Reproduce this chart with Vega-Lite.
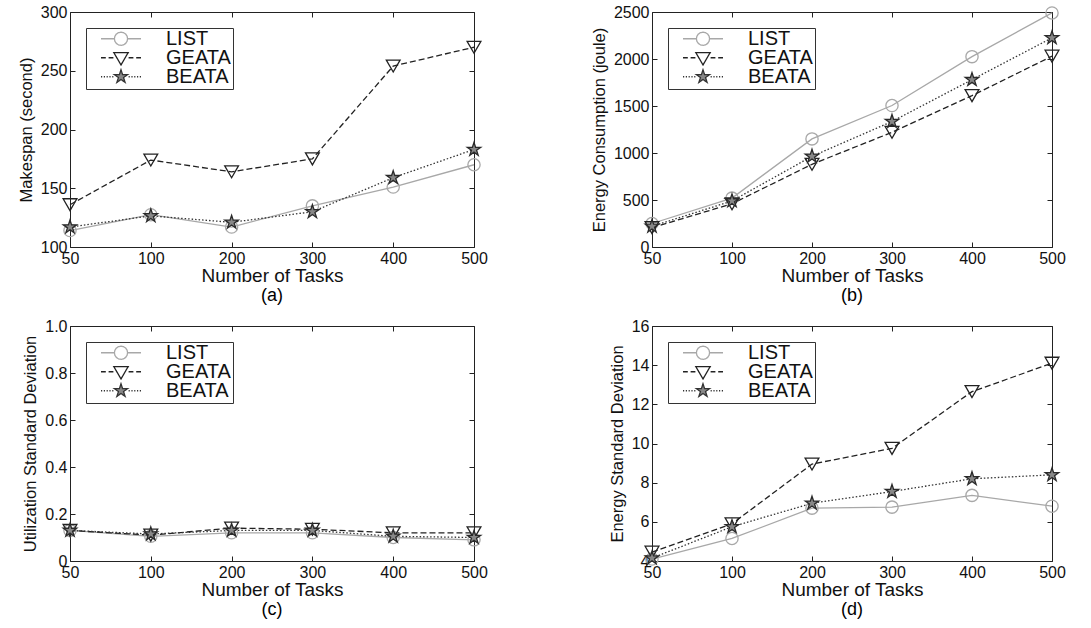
{
  "$schema": "https://vega.github.io/schema/vega-lite/v6.json",
  "background": "white",
  "padding": {"left": 17, "top": 3, "right": 5, "bottom": 5},
  "datasets": {
    "d": [
      {"p": "a", "tasks": 50, "series": "LIST", "v": 114},
      {"p": "a", "tasks": 100, "series": "LIST", "v": 127.5},
      {"p": "a", "tasks": 200, "series": "LIST", "v": 117},
      {"p": "a", "tasks": 300, "series": "LIST", "v": 135},
      {"p": "a", "tasks": 400, "series": "LIST", "v": 151},
      {"p": "a", "tasks": 500, "series": "LIST", "v": 170},
      {"p": "a", "tasks": 50, "series": "GEATA", "v": 136},
      {"p": "a", "tasks": 100, "series": "GEATA", "v": 174},
      {"p": "a", "tasks": 200, "series": "GEATA", "v": 164},
      {"p": "a", "tasks": 300, "series": "GEATA", "v": 175},
      {"p": "a", "tasks": 400, "series": "GEATA", "v": 254},
      {"p": "a", "tasks": 500, "series": "GEATA", "v": 270},
      {"p": "a", "tasks": 50, "series": "BEATA", "v": 117},
      {"p": "a", "tasks": 100, "series": "BEATA", "v": 126.5},
      {"p": "a", "tasks": 200, "series": "BEATA", "v": 121},
      {"p": "a", "tasks": 300, "series": "BEATA", "v": 130},
      {"p": "a", "tasks": 400, "series": "BEATA", "v": 159},
      {"p": "a", "tasks": 500, "series": "BEATA", "v": 183},
      {"p": "b", "tasks": 50, "series": "LIST", "v": 250},
      {"p": "b", "tasks": 100, "series": "LIST", "v": 520},
      {"p": "b", "tasks": 200, "series": "LIST", "v": 1150},
      {"p": "b", "tasks": 300, "series": "LIST", "v": 1505},
      {"p": "b", "tasks": 400, "series": "LIST", "v": 2025},
      {"p": "b", "tasks": 500, "series": "LIST", "v": 2490},
      {"p": "b", "tasks": 50, "series": "GEATA", "v": 205},
      {"p": "b", "tasks": 100, "series": "GEATA", "v": 460},
      {"p": "b", "tasks": 200, "series": "GEATA", "v": 880},
      {"p": "b", "tasks": 300, "series": "GEATA", "v": 1220},
      {"p": "b", "tasks": 400, "series": "GEATA", "v": 1610},
      {"p": "b", "tasks": 500, "series": "GEATA", "v": 2030},
      {"p": "b", "tasks": 50, "series": "BEATA", "v": 220},
      {"p": "b", "tasks": 100, "series": "BEATA", "v": 490},
      {"p": "b", "tasks": 200, "series": "BEATA", "v": 965},
      {"p": "b", "tasks": 300, "series": "BEATA", "v": 1335},
      {"p": "b", "tasks": 400, "series": "BEATA", "v": 1780},
      {"p": "b", "tasks": 500, "series": "BEATA", "v": 2225},
      {"p": "c", "tasks": 50, "series": "LIST", "v": 0.13},
      {"p": "c", "tasks": 100, "series": "LIST", "v": 0.105},
      {"p": "c", "tasks": 200, "series": "LIST", "v": 0.12},
      {"p": "c", "tasks": 300, "series": "LIST", "v": 0.12},
      {"p": "c", "tasks": 400, "series": "LIST", "v": 0.1},
      {"p": "c", "tasks": 500, "series": "LIST", "v": 0.09},
      {"p": "c", "tasks": 50, "series": "GEATA", "v": 0.13},
      {"p": "c", "tasks": 100, "series": "GEATA", "v": 0.11},
      {"p": "c", "tasks": 200, "series": "GEATA", "v": 0.14},
      {"p": "c", "tasks": 300, "series": "GEATA", "v": 0.135},
      {"p": "c", "tasks": 400, "series": "GEATA", "v": 0.12},
      {"p": "c", "tasks": 500, "series": "GEATA", "v": 0.12},
      {"p": "c", "tasks": 50, "series": "BEATA", "v": 0.13},
      {"p": "c", "tasks": 100, "series": "BEATA", "v": 0.115},
      {"p": "c", "tasks": 200, "series": "BEATA", "v": 0.13},
      {"p": "c", "tasks": 300, "series": "BEATA", "v": 0.13},
      {"p": "c", "tasks": 400, "series": "BEATA", "v": 0.105},
      {"p": "c", "tasks": 500, "series": "BEATA", "v": 0.1},
      {"p": "d", "tasks": 50, "series": "LIST", "v": 4.1},
      {"p": "d", "tasks": 100, "series": "LIST", "v": 5.15},
      {"p": "d", "tasks": 200, "series": "LIST", "v": 6.7},
      {"p": "d", "tasks": 300, "series": "LIST", "v": 6.75},
      {"p": "d", "tasks": 400, "series": "LIST", "v": 7.35},
      {"p": "d", "tasks": 500, "series": "LIST", "v": 6.8},
      {"p": "d", "tasks": 50, "series": "GEATA", "v": 4.45},
      {"p": "d", "tasks": 100, "series": "GEATA", "v": 5.9},
      {"p": "d", "tasks": 200, "series": "GEATA", "v": 8.95},
      {"p": "d", "tasks": 300, "series": "GEATA", "v": 9.75},
      {"p": "d", "tasks": 400, "series": "GEATA", "v": 12.65},
      {"p": "d", "tasks": 500, "series": "GEATA", "v": 14.1},
      {"p": "d", "tasks": 50, "series": "BEATA", "v": 4.15},
      {"p": "d", "tasks": 100, "series": "BEATA", "v": 5.75},
      {"p": "d", "tasks": 200, "series": "BEATA", "v": 6.95},
      {"p": "d", "tasks": 300, "series": "BEATA", "v": 7.55},
      {"p": "d", "tasks": 400, "series": "BEATA", "v": 8.2},
      {"p": "d", "tasks": 500, "series": "BEATA", "v": 8.4}
    ]
  },
  "columns": 2,
  "spacing": {"row": 11, "column": 102},
  "resolve": {"scale": {"color": "independent"}, "legend": {"color": "independent"}},
  "concat": [
    {
      "width": 404, "height": 235,
      "data": {"name": "d"},
      "transform": [{"filter": "datum.p === 'a'"}],
      "title": {"text": "(a)", "orient": "bottom", "frame": "group", "anchor": "middle", "fontSize": 18, "fontWeight": "normal", "font": "Liberation Sans", "offset": 2},
      "encoding": {
        "x": {"field": "tasks", "type": "ordinal", "scale": {"type": "point", "padding": 0}, "axis": null},
        "y": {"field": "v", "type": "quantitative", "scale": {"domain": [100, 300], "nice": false, "zero": false}, "axis": null}
      },
      "layer": [
        {
          "transform": [{"filter": "datum.series === 'LIST'"}],
          "mark": {"type": "line", "strokeWidth": 1.3},
          "encoding": {
            "x": {"field": "tasks", "type": "ordinal", "scale": {"type": "point", "padding": 0}, "axis": {"title": "Number of Tasks"}},
            "y": {"field": "v", "type": "quantitative", "scale": {"domain": [100, 300], "nice": false, "zero": false}, "axis": {"title": "Makespan (second)", "values": [100, 150, 200, 250, 300]}},
            "color": {"field": "series", "type": "nominal", "scale": {"domain": ["LIST", "GEATA", "BEATA"], "range": ["#a8a8a8", "#222222", "#333333"]},
              "legend": {"orient": "top-left", "offset": 16, "title": null, "strokeColor": "#333", "fillColor": "white", "padding": 2, "labelFontSize": 20, "labelFont": "Liberation Sans", "labelColor": "#111", "labelExpr": "datum.label + '\u00a0\u00a0'", "symbolSize": 1600, "symbolStrokeWidth": 1.3, "clipHeight": 17.5, "rowPadding": -4, "symbolOffset": 12, "labelOffset": 24,
                "encode": {"symbols": {"update": {
                  "shape": {"signal": "datum.value === 'LIST' ? 'M-1,0H-0.33M0.33,0H1M0.33,0L0.305,0.126L0.233,0.233L0.126,0.305L0,0.33L-0.126,0.305L-0.233,0.233L-0.305,0.126L-0.33,0L-0.305,-0.126L-0.233,-0.233L-0.126,-0.305L0,-0.33L0.126,-0.305L0.233,-0.233L0.305,-0.126Z' : datum.value === 'GEATA' ? 'M-1,0H-0.76M-0.62,0H-0.38M0.38,0H0.62M0.76,0H1M-0.36,-0.26L0.36,-0.26L0,0.36Z' : 'M-1,0H-0.94M-0.86,0H-0.8M-0.72,0H-0.66M-0.58,0H-0.52M-0.44,0H-0.38M0.38,0H0.44M0.52,0H0.58M0.66,0H0.72M0.8,0H0.86M0.94,0H1M0,-0.35L0.079,-0.108L0.333,-0.108L0.127,0.041L0.206,0.283L0,0.134L-0.206,0.283L-0.127,0.041L-0.333,-0.108L-0.079,-0.108Z'"},
                  "fill": {"signal": "datum.value === 'BEATA' ? '#888888' : 'white'"},
                  "strokeDash": {"value": [1, 0]},
                  "opacity": {"value": 1}
                }}}
              }}
          }
        },
        {"transform": [{"filter": "datum.series === 'GEATA'"}], "mark": {"type": "line", "strokeWidth": 1.3, "color": "#222222", "strokeDash": [6, 3]}, "encoding": {}},
        {"transform": [{"filter": "datum.series === 'BEATA'"}], "mark": {"type": "line", "strokeWidth": 1.3, "color": "#333333", "strokeDash": [1.5, 2]}, "encoding": {}},
        {"transform": [{"filter": "datum.series === 'LIST'"}], "mark": {"type": "point", "shape": "circle", "size": 150, "filled": false, "stroke": "#a8a8a8", "strokeWidth": 1.3, "opacity": 1}},
        {"transform": [{"filter": "datum.series === 'GEATA'"}], "mark": {"type": "point", "shape": "triangle-down", "size": 190, "filled": false, "stroke": "#222222", "strokeWidth": 1.3, "opacity": 1}},
        {"transform": [{"filter": "datum.series === 'BEATA'"}], "mark": {"type": "point", "shape": "M0,-1L0.225,-0.309L0.951,-0.309L0.363,0.118L0.588,0.809L0,0.382L-0.588,0.809L-0.363,0.118L-0.951,-0.309L-0.225,-0.309Z", "size": 200, "filled": true, "fill": "#888888", "stroke": "#2a2a2a", "strokeWidth": 1.3, "opacity": 1}},
        {
          "mark": {"type": "point", "opacity": 0},
          "encoding": {
            "x": {"field": "tasks", "type": "ordinal", "scale": {"type": "point", "padding": 0}, "axis": {"orient": "top", "labels": false, "title": null}},
            "y": {"field": "v", "type": "quantitative", "scale": {"domain": [100, 300], "nice": false, "zero": false}, "axis": {"orient": "right", "labels": false, "title": null, "values": [100, 150, 200, 250, 300]}}
          }
        }
      ],
      "resolve": {"axis": {"x": "independent", "y": "independent"}}
    },
    {
      "width": 400, "height": 235,
      "data": {"name": "d"},
      "transform": [{"filter": "datum.p === 'b'"}],
      "title": {"text": "(b)", "orient": "bottom", "frame": "group", "anchor": "middle", "fontSize": 18, "fontWeight": "normal", "font": "Liberation Sans", "offset": 2},
      "encoding": {
        "x": {"field": "tasks", "type": "ordinal", "scale": {"type": "point", "padding": 0}, "axis": null},
        "y": {"field": "v", "type": "quantitative", "scale": {"domain": [0, 2500], "nice": false}, "axis": null}
      },
      "layer": [
        {
          "transform": [{"filter": "datum.series === 'LIST'"}],
          "mark": {"type": "line", "strokeWidth": 1.3},
          "encoding": {
            "x": {"field": "tasks", "type": "ordinal", "scale": {"type": "point", "padding": 0}, "axis": {"title": "Number of Tasks"}},
            "y": {"field": "v", "type": "quantitative", "scale": {"domain": [0, 2500], "nice": false}, "axis": {"title": "Energy Consumption (joule)", "values": [0, 500, 1000, 1500, 2000, 2500], "format": "d"}},
            "color": {"field": "series", "type": "nominal", "scale": {"domain": ["LIST", "GEATA", "BEATA"], "range": ["#a8a8a8", "#222222", "#333333"]},
              "legend": {"orient": "top-left", "offset": 16, "title": null, "strokeColor": "#333", "fillColor": "white", "padding": 2, "labelFontSize": 20, "labelFont": "Liberation Sans", "labelColor": "#111", "labelExpr": "datum.label + '\u00a0\u00a0'", "symbolSize": 1600, "symbolStrokeWidth": 1.3, "clipHeight": 17.5, "rowPadding": -4, "symbolOffset": 12, "labelOffset": 24,
                "encode": {"symbols": {"update": {
                  "shape": {"signal": "datum.value === 'LIST' ? 'M-1,0H-0.33M0.33,0H1M0.33,0L0.305,0.126L0.233,0.233L0.126,0.305L0,0.33L-0.126,0.305L-0.233,0.233L-0.305,0.126L-0.33,0L-0.305,-0.126L-0.233,-0.233L-0.126,-0.305L0,-0.33L0.126,-0.305L0.233,-0.233L0.305,-0.126Z' : datum.value === 'GEATA' ? 'M-1,0H-0.76M-0.62,0H-0.38M0.38,0H0.62M0.76,0H1M-0.36,-0.26L0.36,-0.26L0,0.36Z' : 'M-1,0H-0.94M-0.86,0H-0.8M-0.72,0H-0.66M-0.58,0H-0.52M-0.44,0H-0.38M0.38,0H0.44M0.52,0H0.58M0.66,0H0.72M0.8,0H0.86M0.94,0H1M0,-0.35L0.079,-0.108L0.333,-0.108L0.127,0.041L0.206,0.283L0,0.134L-0.206,0.283L-0.127,0.041L-0.333,-0.108L-0.079,-0.108Z'"},
                  "fill": {"signal": "datum.value === 'BEATA' ? '#888888' : 'white'"},
                  "strokeDash": {"value": [1, 0]},
                  "opacity": {"value": 1}
                }}}
              }}
          }
        },
        {"transform": [{"filter": "datum.series === 'GEATA'"}], "mark": {"type": "line", "strokeWidth": 1.3, "color": "#222222", "strokeDash": [6, 3]}, "encoding": {}},
        {"transform": [{"filter": "datum.series === 'BEATA'"}], "mark": {"type": "line", "strokeWidth": 1.3, "color": "#333333", "strokeDash": [1.5, 2]}, "encoding": {}},
        {"transform": [{"filter": "datum.series === 'LIST'"}], "mark": {"type": "point", "shape": "circle", "size": 150, "filled": false, "stroke": "#a8a8a8", "strokeWidth": 1.3, "opacity": 1}},
        {"transform": [{"filter": "datum.series === 'GEATA'"}], "mark": {"type": "point", "shape": "triangle-down", "size": 190, "filled": false, "stroke": "#222222", "strokeWidth": 1.3, "opacity": 1}},
        {"transform": [{"filter": "datum.series === 'BEATA'"}], "mark": {"type": "point", "shape": "M0,-1L0.225,-0.309L0.951,-0.309L0.363,0.118L0.588,0.809L0,0.382L-0.588,0.809L-0.363,0.118L-0.951,-0.309L-0.225,-0.309Z", "size": 200, "filled": true, "fill": "#888888", "stroke": "#2a2a2a", "strokeWidth": 1.3, "opacity": 1}},
        {
          "mark": {"type": "point", "opacity": 0},
          "encoding": {
            "x": {"field": "tasks", "type": "ordinal", "scale": {"type": "point", "padding": 0}, "axis": {"orient": "top", "labels": false, "title": null}},
            "y": {"field": "v", "type": "quantitative", "scale": {"domain": [0, 2500], "nice": false}, "axis": {"orient": "right", "labels": false, "title": null, "values": [0, 500, 1000, 1500, 2000, 2500]}}
          }
        }
      ],
      "resolve": {"axis": {"x": "independent", "y": "independent"}}
    },
    {
      "width": 404, "height": 235,
      "data": {"name": "d"},
      "transform": [{"filter": "datum.p === 'c'"}],
      "title": {"text": "(c)", "orient": "bottom", "frame": "group", "anchor": "middle", "fontSize": 18, "fontWeight": "normal", "font": "Liberation Sans", "offset": 2},
      "encoding": {
        "x": {"field": "tasks", "type": "ordinal", "scale": {"type": "point", "padding": 0}, "axis": null},
        "y": {"field": "v", "type": "quantitative", "scale": {"domain": [0, 1], "nice": false}, "axis": null}
      },
      "layer": [
        {
          "transform": [{"filter": "datum.series === 'LIST'"}],
          "mark": {"type": "line", "strokeWidth": 1.3},
          "encoding": {
            "x": {"field": "tasks", "type": "ordinal", "scale": {"type": "point", "padding": 0}, "axis": {"title": "Number of Tasks"}},
            "y": {"field": "v", "type": "quantitative", "scale": {"domain": [0, 1], "nice": false}, "axis": {"title": "Utilization Standard Deviation", "values": [0, 0.2, 0.4, 0.6, 0.8, 1], "labelExpr": "datum.value === 0 ? '0' : format(datum.value, '.1f')"}},
            "color": {"field": "series", "type": "nominal", "scale": {"domain": ["LIST", "GEATA", "BEATA"], "range": ["#a8a8a8", "#222222", "#333333"]},
              "legend": {"orient": "top-left", "offset": 16, "title": null, "strokeColor": "#333", "fillColor": "white", "padding": 2, "labelFontSize": 20, "labelFont": "Liberation Sans", "labelColor": "#111", "labelExpr": "datum.label + '\u00a0\u00a0'", "symbolSize": 1600, "symbolStrokeWidth": 1.3, "clipHeight": 17.5, "rowPadding": -4, "symbolOffset": 12, "labelOffset": 24,
                "encode": {"symbols": {"update": {
                  "shape": {"signal": "datum.value === 'LIST' ? 'M-1,0H-0.33M0.33,0H1M0.33,0L0.305,0.126L0.233,0.233L0.126,0.305L0,0.33L-0.126,0.305L-0.233,0.233L-0.305,0.126L-0.33,0L-0.305,-0.126L-0.233,-0.233L-0.126,-0.305L0,-0.33L0.126,-0.305L0.233,-0.233L0.305,-0.126Z' : datum.value === 'GEATA' ? 'M-1,0H-0.76M-0.62,0H-0.38M0.38,0H0.62M0.76,0H1M-0.36,-0.26L0.36,-0.26L0,0.36Z' : 'M-1,0H-0.94M-0.86,0H-0.8M-0.72,0H-0.66M-0.58,0H-0.52M-0.44,0H-0.38M0.38,0H0.44M0.52,0H0.58M0.66,0H0.72M0.8,0H0.86M0.94,0H1M0,-0.35L0.079,-0.108L0.333,-0.108L0.127,0.041L0.206,0.283L0,0.134L-0.206,0.283L-0.127,0.041L-0.333,-0.108L-0.079,-0.108Z'"},
                  "fill": {"signal": "datum.value === 'BEATA' ? '#888888' : 'white'"},
                  "strokeDash": {"value": [1, 0]},
                  "opacity": {"value": 1}
                }}}
              }}
          }
        },
        {"transform": [{"filter": "datum.series === 'GEATA'"}], "mark": {"type": "line", "strokeWidth": 1.3, "color": "#222222", "strokeDash": [6, 3]}, "encoding": {}},
        {"transform": [{"filter": "datum.series === 'BEATA'"}], "mark": {"type": "line", "strokeWidth": 1.3, "color": "#333333", "strokeDash": [1.5, 2]}, "encoding": {}},
        {"transform": [{"filter": "datum.series === 'LIST'"}], "mark": {"type": "point", "shape": "circle", "size": 150, "filled": false, "stroke": "#a8a8a8", "strokeWidth": 1.3, "opacity": 1}},
        {"transform": [{"filter": "datum.series === 'GEATA'"}], "mark": {"type": "point", "shape": "triangle-down", "size": 190, "filled": false, "stroke": "#222222", "strokeWidth": 1.3, "opacity": 1}},
        {"transform": [{"filter": "datum.series === 'BEATA'"}], "mark": {"type": "point", "shape": "M0,-1L0.225,-0.309L0.951,-0.309L0.363,0.118L0.588,0.809L0,0.382L-0.588,0.809L-0.363,0.118L-0.951,-0.309L-0.225,-0.309Z", "size": 200, "filled": true, "fill": "#888888", "stroke": "#2a2a2a", "strokeWidth": 1.3, "opacity": 1}},
        {
          "mark": {"type": "point", "opacity": 0},
          "encoding": {
            "x": {"field": "tasks", "type": "ordinal", "scale": {"type": "point", "padding": 0}, "axis": {"orient": "top", "labels": false, "title": null}},
            "y": {"field": "v", "type": "quantitative", "scale": {"domain": [0, 1], "nice": false}, "axis": {"orient": "right", "labels": false, "title": null, "values": [0, 0.2, 0.4, 0.6, 0.8, 1]}}
          }
        }
      ],
      "resolve": {"axis": {"x": "independent", "y": "independent"}}
    },
    {
      "width": 400, "height": 235,
      "data": {"name": "d"},
      "transform": [{"filter": "datum.p === 'd'"}],
      "title": {"text": "(d)", "orient": "bottom", "frame": "group", "anchor": "middle", "fontSize": 18, "fontWeight": "normal", "font": "Liberation Sans", "offset": 2},
      "encoding": {
        "x": {"field": "tasks", "type": "ordinal", "scale": {"type": "point", "padding": 0}, "axis": null},
        "y": {"field": "v", "type": "quantitative", "scale": {"domain": [4, 16], "nice": false, "zero": false}, "axis": null}
      },
      "layer": [
        {
          "transform": [{"filter": "datum.series === 'LIST'"}],
          "mark": {"type": "line", "strokeWidth": 1.3},
          "encoding": {
            "x": {"field": "tasks", "type": "ordinal", "scale": {"type": "point", "padding": 0}, "axis": {"title": "Number of Tasks"}},
            "y": {"field": "v", "type": "quantitative", "scale": {"domain": [4, 16], "nice": false, "zero": false}, "axis": {"title": "Energy Standard Deviation", "values": [4, 6, 8, 10, 12, 14, 16]}},
            "color": {"field": "series", "type": "nominal", "scale": {"domain": ["LIST", "GEATA", "BEATA"], "range": ["#a8a8a8", "#222222", "#333333"]},
              "legend": {"orient": "top-left", "offset": 16, "title": null, "strokeColor": "#333", "fillColor": "white", "padding": 2, "labelFontSize": 20, "labelFont": "Liberation Sans", "labelColor": "#111", "labelExpr": "datum.label + '\u00a0\u00a0'", "symbolSize": 1600, "symbolStrokeWidth": 1.3, "clipHeight": 17.5, "rowPadding": -4, "symbolOffset": 12, "labelOffset": 24,
                "encode": {"symbols": {"update": {
                  "shape": {"signal": "datum.value === 'LIST' ? 'M-1,0H-0.33M0.33,0H1M0.33,0L0.305,0.126L0.233,0.233L0.126,0.305L0,0.33L-0.126,0.305L-0.233,0.233L-0.305,0.126L-0.33,0L-0.305,-0.126L-0.233,-0.233L-0.126,-0.305L0,-0.33L0.126,-0.305L0.233,-0.233L0.305,-0.126Z' : datum.value === 'GEATA' ? 'M-1,0H-0.76M-0.62,0H-0.38M0.38,0H0.62M0.76,0H1M-0.36,-0.26L0.36,-0.26L0,0.36Z' : 'M-1,0H-0.94M-0.86,0H-0.8M-0.72,0H-0.66M-0.58,0H-0.52M-0.44,0H-0.38M0.38,0H0.44M0.52,0H0.58M0.66,0H0.72M0.8,0H0.86M0.94,0H1M0,-0.35L0.079,-0.108L0.333,-0.108L0.127,0.041L0.206,0.283L0,0.134L-0.206,0.283L-0.127,0.041L-0.333,-0.108L-0.079,-0.108Z'"},
                  "fill": {"signal": "datum.value === 'BEATA' ? '#888888' : 'white'"},
                  "strokeDash": {"value": [1, 0]},
                  "opacity": {"value": 1}
                }}}
              }}
          }
        },
        {"transform": [{"filter": "datum.series === 'GEATA'"}], "mark": {"type": "line", "strokeWidth": 1.3, "color": "#222222", "strokeDash": [6, 3]}, "encoding": {}},
        {"transform": [{"filter": "datum.series === 'BEATA'"}], "mark": {"type": "line", "strokeWidth": 1.3, "color": "#333333", "strokeDash": [1.5, 2]}, "encoding": {}},
        {"transform": [{"filter": "datum.series === 'LIST'"}], "mark": {"type": "point", "shape": "circle", "size": 150, "filled": false, "stroke": "#a8a8a8", "strokeWidth": 1.3, "opacity": 1}},
        {"transform": [{"filter": "datum.series === 'GEATA'"}], "mark": {"type": "point", "shape": "triangle-down", "size": 190, "filled": false, "stroke": "#222222", "strokeWidth": 1.3, "opacity": 1}},
        {"transform": [{"filter": "datum.series === 'BEATA'"}], "mark": {"type": "point", "shape": "M0,-1L0.225,-0.309L0.951,-0.309L0.363,0.118L0.588,0.809L0,0.382L-0.588,0.809L-0.363,0.118L-0.951,-0.309L-0.225,-0.309Z", "size": 200, "filled": true, "fill": "#888888", "stroke": "#2a2a2a", "strokeWidth": 1.3, "opacity": 1}},
        {
          "mark": {"type": "point", "opacity": 0},
          "encoding": {
            "x": {"field": "tasks", "type": "ordinal", "scale": {"type": "point", "padding": 0}, "axis": {"orient": "top", "labels": false, "title": null}},
            "y": {"field": "v", "type": "quantitative", "scale": {"domain": [4, 16], "nice": false, "zero": false}, "axis": {"orient": "right", "labels": false, "title": null, "values": [4, 6, 8, 10, 12, 14, 16]}}
          }
        }
      ],
      "resolve": {"axis": {"x": "independent", "y": "independent"}}
    }
  ],
  "config": {
    "view": {"stroke": "#222222", "strokeWidth": 1},
    "font": "Liberation Sans",
    "axis": {"domain": false, "grid": false, "ticks": true, "tickSize": -5, "tickColor": "#222222", "tickWidth": 1, "labelFont": "Liberation Sans", "labelFontSize": 16, "labelColor": "#111111", "titleFont": "Liberation Sans", "titleFontWeight": "normal", "titleColor": "#111111", "labelPadding": 8},
    "axisX": {"titleFontSize": 19, "titlePadding": 0, "labelAngle": 0},
    "axisY": {"titleFontSize": 16.5, "titlePadding": 6}
  }
}
